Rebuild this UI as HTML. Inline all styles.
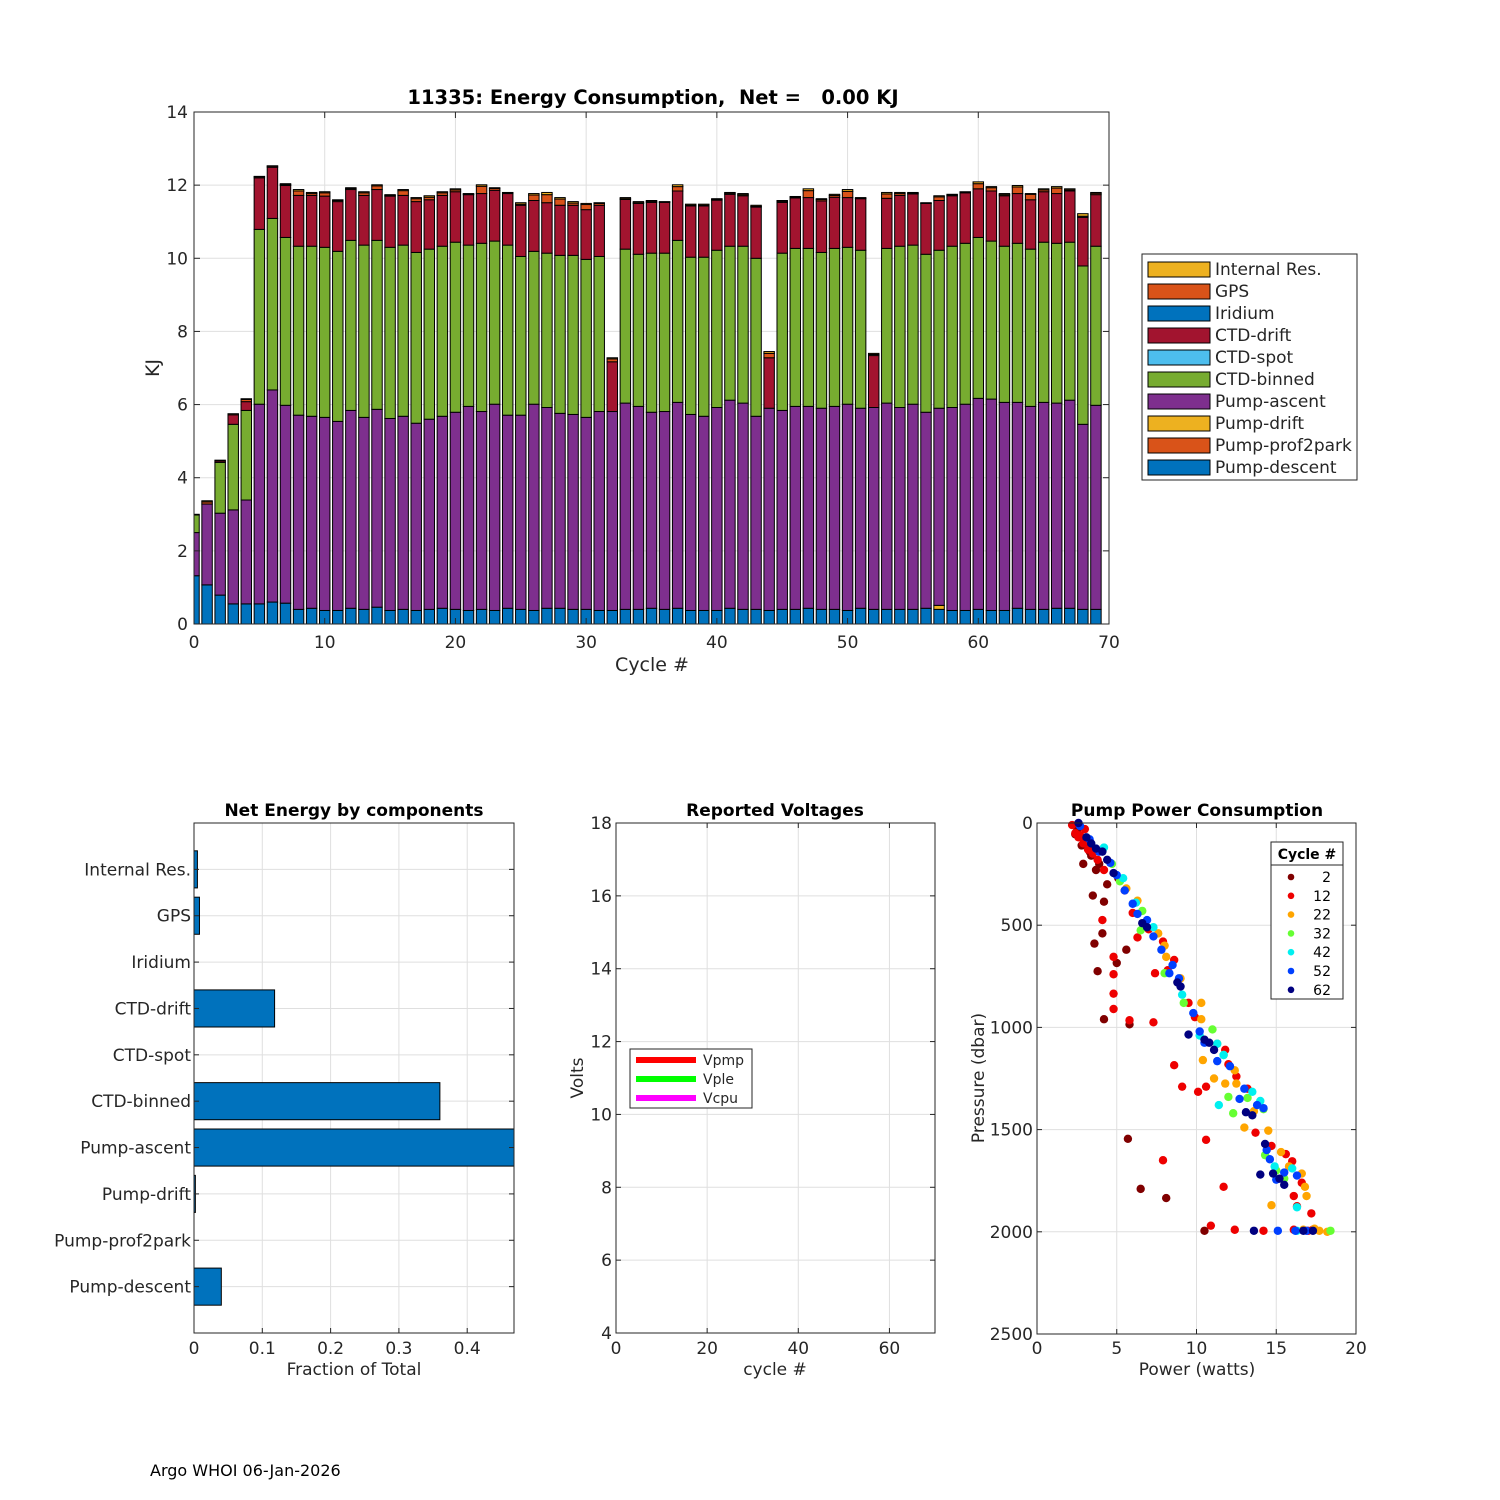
<!DOCTYPE html>
<html><head><meta charset="utf-8"><style>
body{margin:0;background:#fff}
svg{display:block;font-family:"DejaVu Sans","Liberation Sans",sans-serif}
.tk{font-size:17px;fill:#262626}
.ttl{font-size:18px;font-weight:bold;fill:#000}
.lab{font-size:18px;fill:#262626}
</style></head><body>
<svg id="fig" width="1500" height="1500" viewBox="0 0 1500 1500">
<rect width="1500" height="1500" fill="#fff"/>
<g id="top"></g>
<g id="bl"></g>
<g id="bm"></g>
<g id="br"></g>
<text x="150" y="1476" font-size="16" fill="#000">Argo WHOI 06-Jan-2026</text>
</svg>
<script>
// ---------- top chart data ----------
const pumpDescent=[1.32,1.07,0.79,0.55,0.55,0.55,0.60,0.57,0.40,0.43,0.37,0.37,0.43,0.40,0.46,0.37,0.40,0.37,0.40,0.43,0.40,0.37,0.40,0.37,0.43,0.40,0.37,0.43,0.43,0.40,0.40,0.37,0.37,0.40,0.40,0.43,0.40,0.43,0.37,0.37,0.37,0.43,0.40,0.40,0.37,0.40,0.40,0.43,0.40,0.40,0.37,0.43,0.40,0.40,0.40,0.40,0.43,0.40,0.37,0.37,0.40,0.37,0.37,0.43,0.40,0.40,0.43,0.43,0.40,0.40];
const pumpProf2park=[0,0,0,0,0,0,0,0,0,0,0,0,0,0,0,0,0,0,0,0,0,0,0,0,0,0,0,0,0,0,0,0,0,0,0,0,0,0,0,0,0,0,0,0,0,0,0,0,0,0,0,0,0,0,0,0,0,0,0,0,0,0,0,0,0,0,0,0,0,0];
const pumpDrift=[0,0,0,0,0,0,0,0,0,0,0,0,0,0,0,0,0,0,0,0,0,0,0,0,0,0,0,0,0,0,0,0,0,0,0,0,0,0,0,0,0,0,0,0,0,0,0,0,0,0,0,0,0,0,0,0,0,0.11,0,0,0,0,0,0,0,0,0,0,0,0];
const pumpAscent=[1.18,2.21,2.24,2.57,2.84,5.46,5.80,5.41,5.31,5.25,5.28,5.17,5.41,5.25,5.41,5.25,5.28,5.12,5.20,5.25,5.39,5.58,5.41,5.64,5.28,5.31,5.64,5.49,5.33,5.33,5.25,5.44,5.44,5.64,5.55,5.36,5.41,5.63,5.36,5.31,5.55,5.69,5.64,5.28,5.53,5.44,5.55,5.52,5.50,5.55,5.64,5.47,5.52,5.64,5.52,5.61,5.36,5.39,5.55,5.64,5.77,5.78,5.69,5.63,5.55,5.66,5.61,5.69,5.06,5.58];
const ctdBinned=[0.48,0,1.39,2.34,2.45,4.78,4.69,4.59,4.62,4.65,4.65,4.65,4.65,4.71,4.62,4.68,4.68,4.67,4.65,4.65,4.65,4.41,4.60,4.46,4.65,4.34,4.18,4.22,4.32,4.35,4.32,4.24,0,4.21,4.16,4.35,4.33,4.43,4.30,4.35,4.30,4.21,4.29,4.32,0,4.30,4.32,4.32,4.26,4.32,4.29,4.32,0,4.23,4.41,4.35,4.32,4.32,4.41,4.40,4.40,4.32,4.27,4.35,4.30,4.38,4.37,4.32,4.33,4.35];
const ctdSpot=[0,0,0,0,0,0,0,0,0,0,0,0,0,0,0,0,0,0,0,0,0,0,0,0,0,0,0,0,0,0,0,0,0,0,0,0,0,0,0,0,0,0,0,0,0,0,0,0,0,0,0,0,0,0,0,0,0,0,0,0,0,0,0,0,0,0,0,0,0,0];
const ctdDrift=[0,0,0.04,0.26,0.24,1.41,1.40,1.42,1.39,1.39,1.40,1.36,1.39,1.36,1.39,1.40,1.36,1.39,1.35,1.39,1.38,1.38,1.36,1.39,1.41,1.40,1.39,1.38,1.37,1.37,1.36,1.40,1.36,1.36,1.39,1.39,1.39,1.35,1.40,1.40,1.37,1.42,1.38,1.40,1.38,1.39,1.38,1.39,1.41,1.40,1.36,1.41,1.42,1.37,1.39,1.40,1.39,1.36,1.38,1.38,1.33,1.37,1.38,1.36,1.35,1.38,1.36,1.40,1.33,1.41];
const iridium=[0,0,0,0,0,0,0,0,0,0,0,0,0,0,0,0,0,0,0,0,0,0,0,0,0,0,0,0,0,0,0,0,0,0,0,0,0,0,0,0,0,0,0,0,0,0,0,0,0,0,0,0,0,0,0,0,0,0,0,0,0,0,0,0,0,0,0,0,0,0];
const gps=[0.02,0.06,0.02,0.03,0.06,0.03,0.03,0.03,0.12,0.05,0.09,0.03,0.03,0.07,0.10,0.02,0.13,0.08,0.07,0.07,0.05,0.02,0.20,0.05,0.02,0.03,0.15,0.22,0.17,0.06,0.14,0.05,0.08,0.02,0.02,0.03,0.01,0.12,0.02,0.02,0.02,0.03,0.03,0.02,0.12,0.03,0.02,0.19,0.04,0.05,0.17,0.01,0.03,0.12,0.05,0.02,0.01,0.10,0.02,0.02,0.14,0.09,0.03,0.18,0.15,0.05,0.15,0.03,0.03,0.04];
const internalRes=[0,0.03,0,0,0.02,0.01,0.01,0.02,0.04,0.03,0.03,0.02,0.02,0.03,0.03,0.02,0.03,0.03,0.04,0.03,0.03,0.01,0.04,0.02,0.01,0.04,0.04,0.06,0.04,0.04,0.03,0.02,0.03,0.03,0.03,0.02,0.01,0.05,0.03,0.03,0.02,0.02,0.03,0.03,0.05,0.02,0.02,0.05,0.02,0.03,0.05,0.02,0.03,0.04,0.03,0.02,0.01,0.03,0.02,0.01,0.05,0.03,0.03,0.04,0.02,0.03,0.04,0.03,0.07,0.02];
const topXTicks=[0,10,20,30,40,50,60,70];
const topYTicks=[0,2,4,6,8,10,12,14];
// ---------- bottom-left data ----------
const compNames=["Internal Res.","GPS","Iridium","CTD-drift","CTD-spot","CTD-binned","Pump-ascent","Pump-drift","Pump-prof2park","Pump-descent"];
const compFractions=[0.005,0.008,0,0.118,0,0.36,0.48,0.002,0,0.04];
const blXTicks=[0,0.1,0.2,0.3,0.4];
// ---------- bottom-middle ----------
const vXTicks=[0,20,40,60];
const vYTicks=[4,6,8,10,12,14,16,18];
const vNames=["Vpmp","Vple","Vcpu"];
// ---------- bottom-right data ----------
const pXTicks=[0,5,10,15,20];
const pYTicks=[0,500,1000,1500,2000,2500];
const cycleLabels=[2,12,22,32,42,52,62];
const c2W=[2.9,3.5,4.2,4.1,3.6,5.6,5.0,3.8,4.2,5.8,5.7,8.1,6.5,10.5,2.4,3.2,3.9,5.1,2.6,3.0,3.4,2.5,2.8,3.3,3.7,4.4];
const c2P=[200,355,385,540,590,620,685,725,960,985,1545,1835,1790,1995,55,120,200,270,20,80,160,40,110,140,230,300];
const c12W=[4.1,4.8,4.8,4.8,4.8,5.8,7.3,6.3,7.4,8.6,9.1,10.1,10.6,10.6,7.9,11.7,10.9,12.4,14.2,17.2,2.6,4.2,5.5,7.9,8.6,9.9,11.8,12.5,13.7,14.7,16.0,16.1,16.3,17.3,16.1,2.2,2.4,2.9,3.5,3.0,3.8,2.7,3.2,6.0,7.0,8.2,9.5,12.0,13.2,15.6,16.6,17.0];
const c12P=[475,655,740,835,910,965,975,560,735,1185,1290,1315,1290,1550,1650,1780,1970,1990,1995,1910,70,230,330,580,670,950,1110,1240,1515,1580,1655,1825,1875,1990,1990,10,50,100,150,30,180,60,130,440,520,720,880,1180,1300,1620,1760,1995];
const c22W=[5.6,6.3,8.0,8.1,10.3,10.3,10.4,11.1,11.8,12.5,12.4,13.0,14.5,15.3,16.6,16.8,16.9,14.7,17.7,16.7,18.2,7.6,9.0,11.3,13.6,15.8,17.4];
const c22P=[320,380,600,655,880,960,1160,1250,1275,1275,1210,1490,1505,1610,1715,1780,1825,1870,1995,1990,2000,540,760,1080,1410,1680,1985];
const c32W=[5.2,6.6,6.5,8.0,11.0,11.7,12.0,12.3,13.2,14.2,14.3,15.5,18.4,4.7,9.2,15.0];
const c32P=[285,430,525,735,1010,1135,1340,1420,1345,1400,1625,1740,1995,200,880,1700];
const c42W=[4.2,5.4,7.3,9.1,11.3,11.7,11.4,14.0,13.5,16.3,14.9,16.0,16.3,6.2,10.2];
const c42P=[120,270,510,840,1080,1135,1380,1360,1315,1880,1680,1690,1995,390,1040];
const c52W=[2.7,3.3,4.6,5.0,6.0,6.3,6.9,7.3,8.5,8.3,8.9,9.8,10.2,10.5,11.3,12.1,12.7,13.8,14.2,14.6,15.0,15.5,16.3,15.1,16.2,16.9,3.9,5.5,7.8,13.0,14.4];
const c52P=[15,80,195,255,395,445,475,555,695,735,760,930,1020,1075,1165,1190,1350,1380,1395,1645,1745,1710,1725,1995,1995,1995,140,330,620,1300,1600];
const c62W=[2.6,3.1,3.7,4.1,4.8,6.6,6.9,8.8,9.0,9.5,10.8,11.1,13.1,13.5,14.3,14.0,15.5,13.6,16.7,17.3,14.8,3.4,4.4,10.5,15.2];
const c62P=[0,70,125,140,245,490,510,780,800,1035,1075,1110,1415,1430,1570,1720,1770,1995,1995,1995,1715,100,180,1060,1740];

const NS="http://www.w3.org/2000/svg";
function mk(parent,tag,attrs,txt){const e=document.createElementNS(NS,tag);for(const k in attrs)e.setAttribute(k,attrs[k]);if(txt!==undefined)e.textContent=txt;parent.appendChild(e);return e;}
const GRID="#dfdfdf", AX="#262626";

// ================= TOP CHART =================
(function(){
const g=document.getElementById('top');
const L=194,R=1109,T=112,B=624;
const X=v=>L+(v-0)*(R-L)/70, Y=v=>B-v*(B-T)/14;
for(const t of topXTicks){ if(t>0&&t<70){const l=mk(g,'line',{x1:X(t),x2:X(t),y1:T,y2:B,stroke:GRID});}}
for(const t of topYTicks){ if(t>0&&t<14){const l=mk(g,'line',{x1:L,x2:R,y1:Y(t),y2:Y(t),stroke:GRID});}}
const cp=mk(g,'clipPath',{id:'topclip'});mk(cp,'rect',{x:L,y:T,width:R-L,height:B-T});
const bars=mk(g,'g',{'clip-path':'url(#topclip)'});


const series=[[pumpDescent,'#0072BD','pump-descent'],[pumpProf2park,'#D95319','pump-prof2park'],[pumpDrift,'#EDB120','pump-drift'],[pumpAscent,'#7E2F8E','pump-ascent'],[ctdBinned,'#77AC30','ctd-binned'],[ctdSpot,'#4DBEEE','ctd-spot'],[ctdDrift,'#A2142F','ctd-drift'],[iridium,'#0072BD','iridium'],[gps,'#D95319','gps'],[internalRes,'#EDB120','internal-res']];
const bw=0.8*(R-L)/70;
for(let i=0;i<pumpDescent.length;i++){
  let acc=0;
  for(const [arr,col,nm] of series){
    const v=arr[i]; if(!(v>0)) continue;
    const r=mk(bars,'rect',{x:X(i)-bw/2,y:Y(acc+v),width:bw,height:Y(acc)-Y(acc+v),fill:col,stroke:'#000','stroke-width':1});
    
    
    acc+=v;
  }
}
const box=mk(g,'rect',{x:L,y:T,width:R-L,height:B-T,fill:'none',stroke:AX,'stroke-width':1});

for(const t of topXTicks){mk(g,'line',{x1:X(t),x2:X(t),y1:B,y2:B-6,stroke:AX});mk(g,'line',{x1:X(t),x2:X(t),y1:T,y2:T+6,stroke:AX});
  const tx=mk(g,'text',{x:X(t),y:B+24,'text-anchor':'middle',class:'tk'},t);}
for(const t of topYTicks){mk(g,'line',{x1:L,x2:L+6,y1:Y(t),y2:Y(t),stroke:AX});mk(g,'line',{x1:R,x2:R-6,y1:Y(t),y2:Y(t),stroke:AX});
  const tx=mk(g,'text',{x:L-6,y:Y(t)+6,'text-anchor':'end',class:'tk'},t);}
let e=mk(g,'text',{x:652,y:671,'text-anchor':'middle',class:'lab',style:'font-size:19px'},'Cycle #');
e=mk(g,'text',{x:0,y:0,'text-anchor':'middle',class:'lab',transform:'translate(159,368) rotate(-90)',style:'font-size:19px'},'KJ');
e=mk(g,'text',{x:653,y:104,'text-anchor':'middle',class:'ttl',style:'font-size:19.5px;white-space:pre'},'11335: Energy Consumption,  Net =   0.00 KJ');
// legend
const lg=mk(g,'g',{});
mk(lg,'rect',{x:1142,y:254,width:215,height:226,fill:'#fff',stroke:AX});
const legItems=[['Internal Res.','#EDB120'],['GPS','#D95319'],['Iridium','#0072BD'],['CTD-drift','#A2142F'],['CTD-spot','#4DBEEE'],['CTD-binned','#77AC30'],['Pump-ascent','#7E2F8E'],['Pump-drift','#EDB120'],['Pump-prof2park','#D95319'],['Pump-descent','#0072BD']];
legItems.forEach(([n,c],k)=>{const yy=269+22*k;
  const s=mk(lg,'rect',{x:1148,y:yy-7,width:62,height:15,fill:c,stroke:'#000'});
  const t=mk(lg,'text',{x:1215,y:yy+6,class:'tk'},n);});
})();

// ================= BOTTOM LEFT =================
(function(){
const g=document.getElementById('bl');
const L=194,R=514,T=823,B=1333;
const X=v=>L+v*683, Y=k=>T+(k+1)*(B-T)/11;
for(const t of blXTicks){ if(t>0){const l=mk(g,'line',{x1:X(t),x2:X(t),y1:T,y2:B,stroke:GRID});}}
compNames.forEach((n,k)=>{const l=mk(g,'line',{x1:L,x2:R,y1:Y(k),y2:Y(k),stroke:GRID});});
const cp=mk(g,'clipPath',{id:'blclip'});mk(cp,'rect',{x:L,y:T,width:R-L,height:B-T});
const bg=mk(g,'g',{'clip-path':'url(#blclip)'});
const bh=0.8*(B-T)/11;
compFractions.forEach((v,k)=>{ if(v>0){const r=mk(bg,'rect',{x:L,y:Y(k)-bh/2,width:X(v)-L,height:bh,fill:'#0072BD',stroke:'#000'});}});
mk(g,'rect',{x:L,y:T,width:R-L,height:B-T,fill:'none',stroke:AX});
for(const t of blXTicks){mk(g,'line',{x1:X(t),x2:X(t),y1:B,y2:B-5,stroke:AX});
  const tx=mk(g,'text',{x:X(t),y:B+21,'text-anchor':'middle',class:'tk'},String(t));}
compNames.forEach((n,k)=>{mk(g,'line',{x1:L,x2:L+5,y1:Y(k),y2:Y(k),stroke:AX});mk(g,'line',{x1:R,x2:R-5,y1:Y(k),y2:Y(k),stroke:AX});
  const tx=mk(g,'text',{x:L-3,y:Y(k)+6,'text-anchor':'end',class:'tk'},n);});
let e=mk(g,'text',{x:354,y:1375,'text-anchor':'middle',class:'tk'},'Fraction of Total');
e=mk(g,'text',{x:354,y:816,'text-anchor':'middle',class:'ttl',style:'font-size:17px'},'Net Energy by components');
})();

// ================= BOTTOM MIDDLE =================
(function(){
const g=document.getElementById('bm');
const L=616,R=935,T=823,B=1333;
const X=v=>L+v*(R-L)/70, Y=v=>B-(v-4)*(B-T)/14;
for(const t of vXTicks){ if(t>0){const l=mk(g,'line',{x1:X(t),x2:X(t),y1:T,y2:B,stroke:GRID});}}
for(const t of vYTicks){ if(t>4&&t<18){const l=mk(g,'line',{x1:L,x2:R,y1:Y(t),y2:Y(t),stroke:GRID});}}
mk(g,'rect',{x:L,y:T,width:R-L,height:B-T,fill:'none',stroke:AX});
for(const t of vXTicks){mk(g,'line',{x1:X(t),x2:X(t),y1:B,y2:B-5,stroke:AX});mk(g,'line',{x1:X(t),x2:X(t),y1:T,y2:T+5,stroke:AX});
  const tx=mk(g,'text',{x:X(t),y:B+21,'text-anchor':'middle',class:'tk'},t);}
for(const t of vYTicks){mk(g,'line',{x1:L,x2:L+5,y1:Y(t),y2:Y(t),stroke:AX});mk(g,'line',{x1:R,x2:R-5,y1:Y(t),y2:Y(t),stroke:AX});
  const tx=mk(g,'text',{x:L-4,y:Y(t)+6,'text-anchor':'end',class:'tk'},t);}
let e=mk(g,'text',{x:775,y:1375,'text-anchor':'middle',class:'tk'},'cycle #');
e=mk(g,'text',{x:0,y:0,'text-anchor':'middle',class:'tk',transform:'translate(583,1078) rotate(-90)'},'Volts');
e=mk(g,'text',{x:775,y:816,'text-anchor':'middle',class:'ttl',style:'font-size:17px'},'Reported Voltages');
const lg=mk(g,'g',{});
mk(lg,'rect',{x:630,y:1049,width:122,height:59,fill:'#fff',stroke:AX});
const cols=['#ff0000','#00ff00','#ff00ff'];
vNames.forEach((n,k)=>{const yy=1060+19*k;
  const l=mk(lg,'line',{x1:636,x2:696,y1:yy,y2:yy,stroke:cols[k],'stroke-width':6});
  const t=mk(lg,'text',{x:703,y:yy+5,class:'tk',style:'font-size:14px'},n);});
})();

// ================= BOTTOM RIGHT =================
(function(){
const g=document.getElementById('br');
const L=1037,R=1356,T=823,B=1334;
const X=v=>L+v*(R-L)/20, Y=v=>T+v*(B-T)/2500;
for(const t of pXTicks){ if(t>0&&t<20){const l=mk(g,'line',{x1:X(t),x2:X(t),y1:T,y2:B,stroke:GRID});}}
for(const t of pYTicks){ if(t>0&&t<2500){const l=mk(g,'line',{x1:L,x2:R,y1:Y(t),y2:Y(t),stroke:GRID});}}
const groups=[[c2W,c2P,'#800000'],[c12W,c12P,'#ee0000'],[c22W,c22P,'#ffa500'],[c32W,c32P,'#66ff33'],[c42W,c42P,'#00f0f0'],[c52W,c52P,'#0040ff'],[c62W,c62P,'#000080']];
groups.forEach(([W,P,col],gi)=>{
  const sg=mk(g,'g',{});
  
  
  for(let i=0;i<W.length;i++){const c=mk(sg,'circle',{cx:X(W[i]),cy:Y(P[i]),r:4.2,fill:col});
    
    }
});
mk(g,'rect',{x:L,y:T,width:R-L,height:B-T,fill:'none',stroke:AX});
for(const t of pXTicks){mk(g,'line',{x1:X(t),x2:X(t),y1:B,y2:B-5,stroke:AX});mk(g,'line',{x1:X(t),x2:X(t),y1:T,y2:T+5,stroke:AX});
  const tx=mk(g,'text',{x:X(t),y:B+20,'text-anchor':'middle',class:'tk'},t);}
for(const t of pYTicks){mk(g,'line',{x1:L,x2:L+5,y1:Y(t),y2:Y(t),stroke:AX});mk(g,'line',{x1:R,x2:R-5,y1:Y(t),y2:Y(t),stroke:AX});
  const tx=mk(g,'text',{x:L-4,y:Y(t)+6,'text-anchor':'end',class:'tk'},t);}
let e=mk(g,'text',{x:1197,y:1375,'text-anchor':'middle',class:'tk'},'Power (watts)');
e=mk(g,'text',{x:0,y:0,'text-anchor':'middle',class:'tk',transform:'translate(984,1078) rotate(-90)'},'Pressure (dbar)');
e=mk(g,'text',{x:1197,y:816,'text-anchor':'middle',class:'ttl',style:'font-size:17px'},'Pump Power Consumption');
const lg=mk(g,'g',{});
mk(lg,'rect',{x:1271,y:842,width:72,height:157,fill:'#fff',stroke:AX});
mk(lg,'line',{x1:1271,x2:1343,y1:865,y2:865,stroke:AX});
e=mk(lg,'text',{x:1307,y:859,'text-anchor':'middle',style:'font-size:14px;font-weight:bold'},'Cycle #');
cycleLabels.forEach((c,k)=>{const yy=877+18.8*k;
  const m=mk(lg,'circle',{cx:1291,cy:yy,r:3.3,fill:groups[k][2]});
  const t=mk(lg,'text',{x:1331,y:yy+5,'text-anchor':'end',style:'font-size:14px',fill:'#000'},c);});
})();
</script>
</body></html>
